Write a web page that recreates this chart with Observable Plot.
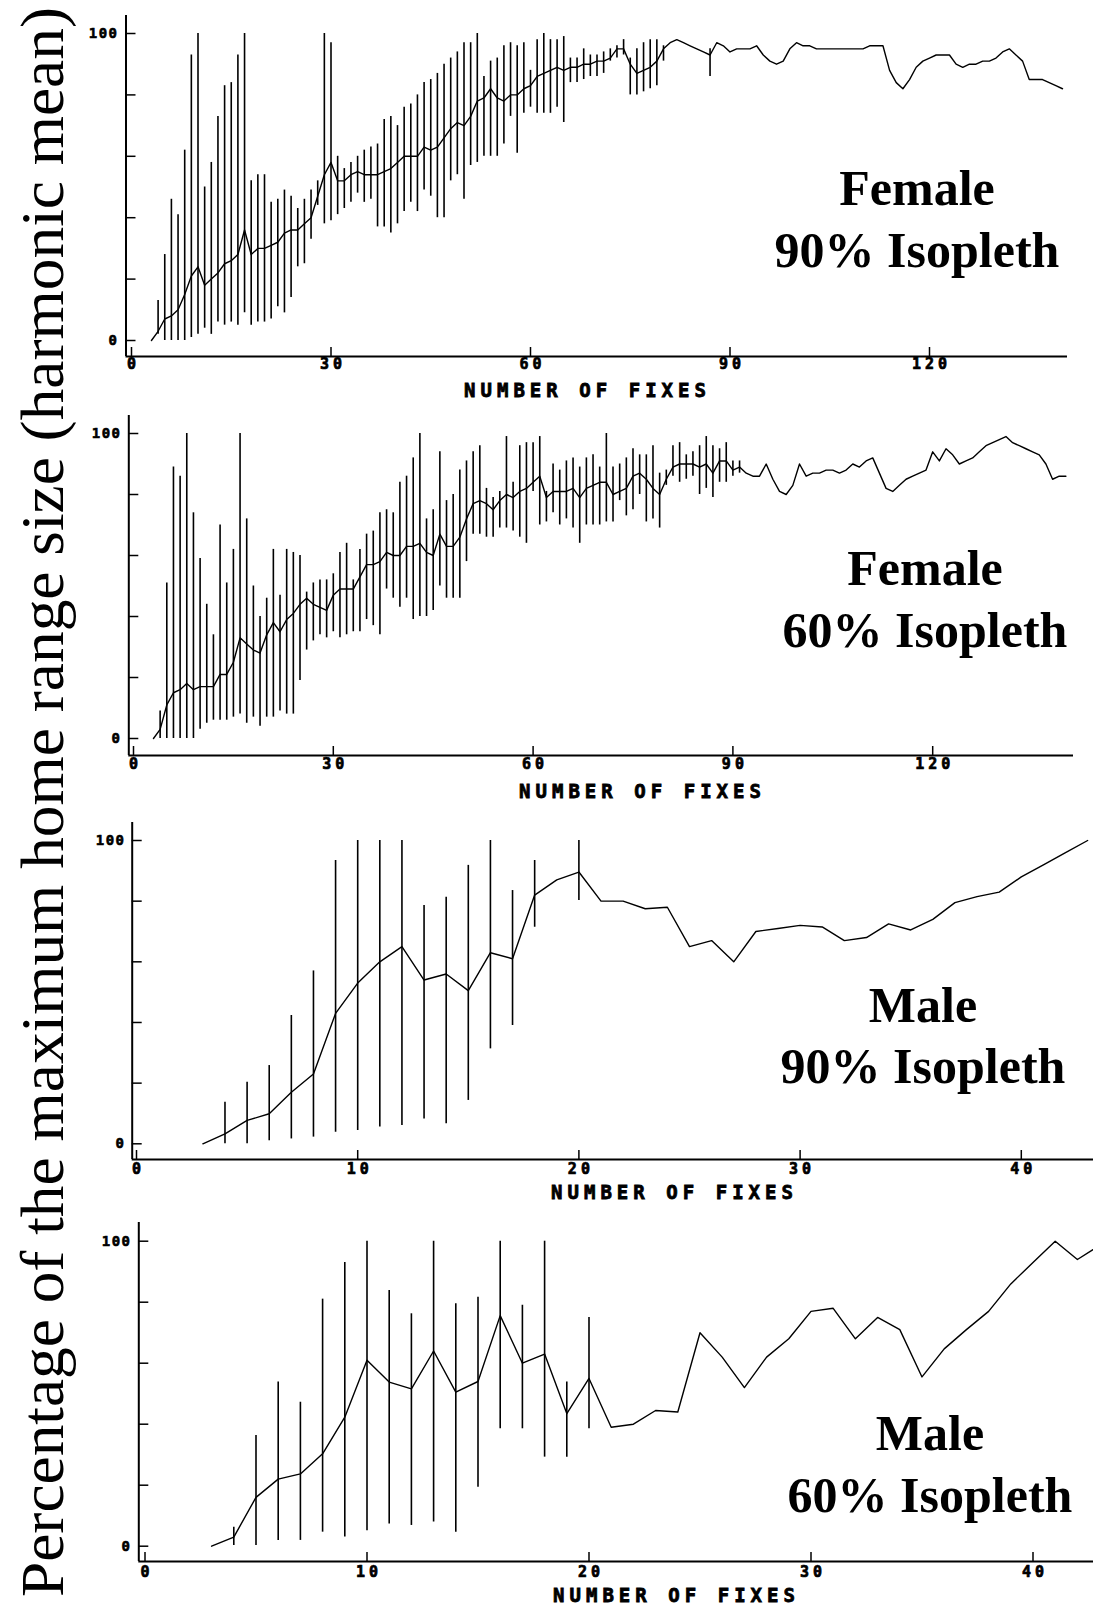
<!DOCTYPE html>
<html><head><meta charset="utf-8">
<script src="https://cdn.jsdelivr.net/npm/d3@7"></script>
<script src="https://cdn.jsdelivr.net/npm/@observablehq/plot@0.6"></script>
<style>
html,body{margin:0;padding:0;background:#fff;overflow:hidden;}
#root{position:relative;width:1093px;height:1605px;overflow:hidden;background:#fff;}
.panel{position:absolute;left:0;}
#overlay{position:absolute;left:0;top:0;}
g.xtl text{letter-spacing:4px;}
g.ytl text{letter-spacing:1.5px;}
</style></head><body><div id="root"></div>
<script>
// ---------------- DATA ----------------
// Female, number of fixes 3..140
const femaleFixes = d3.range(3, 141);
const female90Mean = [
  0,3,7,8,10,15,21,24,18,20,
  22,25,26,28,36,28,30,30,31,32,
  35,36,36,38,40,47,54,58,52,52,
  54,55,54,54,54,55,56,58,60,60,
  60,63,62,63,66,69,71,70,73,78,
  79,82,79,78,80,80,82,83,86,87,
  88,89,88,89,89,90,90,91,91,92,
  95,95,90,87,88,89,91,95,97,98,
  97,96,95,94,93,97,96,94,95,95,
  95,96,93,91,90,91,95,97,96,96,
  95,95,95,95,95,95,95,95,96,96,
  96,88,84,82,85,89,91,92,93,93,
  93,90,89,90,90,91,91,92,94,95,
  93,91,85,85,85,84,83,82];
const female90BarFix = d3.range(4, 81).concat([87]);
const female90Lo = [
  2,0,0,0,0,1,2,4,2,6,
  5,6,5,9,5,6,6,7,11,9,
  14,24,25,33,44,38,39,41,43,45,
  48,45,46,37,37,35,38,42,45,42,
  49,47,40,40,52,54,46,57,58,60,
  60,60,64,73,61,74,76,74,74,74,
  76,71,84,84,85,86,86,87,91,92,
  93,80,80,81,82,83,91,
  86];
const female90Hi = [
  13,28,46,41,62,93,100,50,58,73,
  83,84,93,100,52,54,54,45,46,49,
  47,43,46,49,52,100,97,60,56,58,
  60,62,63,64,72,73,70,76,77,80,
  84,85,87,90,92,94,97,97,100,86,
  91,92,96,97,96,97,88,98,100,98,
  98,99,92,92,95,93,93,94,95,96,
  98,92,95,97,98,98,96,
  95];

const female60Mean = [
  0,3,11,15,16,18,16,17,17,17,
  21,21,25,33,31,29,28,34,38,35,
  39,41,44,46,44,43,42,47,49,49,
  49,53,57,57,58,61,60,60,63,63,
  64,61,60,67,63,63,66,72,77,78,
  77,75,78,80,79,81,82,84,86,79,
  81,81,81,82,79,82,83,84,84,80,
  81,82,86,87,85,82,80,85,89,90,
  90,90,89,90,87,91,91,88,89,87,
  86,86,90,85,81,80,83,90,86,87,
  87,88,88,87,88,90,89,91,92,87,
  82,81,83,85,86,87,88,94,91,95,
  93,90,91,92,94,96,97,98,99,97,
  96,95,94,93,90,85,86,86];
const female60BarFix = d3.range(4, 92);
const female60Lo = [
  0,0,0,0,0,0,3,5,6,6,
  6,7,8,5,7,4,7,7,9,8,
  8,19,29,32,34,33,35,33,34,35,
  35,39,37,34,49,46,43,46,39,40,
  40,42,50,46,46,46,58,67,67,66,
  66,69,69,68,66,64,81,70,71,74,
  70,72,69,64,70,70,70,71,71,78,
  73,75,80,71,72,69,83,86,84,85,
  86,80,82,79,84,84,86,87];
const female60Hi = [
  9,51,89,86,100,74,59,44,34,70,
  51,62,100,72,50,40,46,62,47,62,
  61,60,48,51,52,52,54,61,64,52,
  62,67,68,74,75,74,84,86,92,100,
  72,75,94,78,80,88,91,94,96,82,
  79,81,99,84,96,97,97,99,81,90,
  88,91,92,89,92,93,89,100,89,90,
  92,95,93,93,96,87,88,96,97,93,
  94,96,99,96,95,97,91,91];

// Male, number of fixes 3..43
const maleFixes = [3,4,5,6,7,8,9,10,11,12,13,14,15,16,17,18,19,20,21,22,23,24,25,26,27,28,29,30,31,32,33,34,35,36,37,38,39,40,41,42,43];
const male90Mean = [0,3.3,7.7,9.9,17,23,43,53,60,65,54,56,50.5,63,61,82,87,89.6,80,80,77.5,78,65,67,60,70,71,72,71.5,67,68,72.5,70.5,74,79.5,81.5,83,88,92,96,100];
const male90BarFix = [4,5,6,7,8,9,10,11,12,13,14,15,16,17,18,20];
const male90Lo = [0,0,1,1.6,2.2,3.8,4.4,5.5,6,8.2,6.6,14.3,31.3,39,71.4,80.2];
const male90Hi = [13.7,20.3,25.8,42.3,57,93.4,100,100,100,78.6,81.3,91.8,100,83.5,93.4,100];

const male60Mean = [0,3,16,22,23.7,30.3,42.3,61,53.8,51.6,64,50.5,54,75.6,60,63,43.5,55,39,40,44.5,44,70,62,52,62,68,77,78,68,75,71,55.5,64.7,71,77,86,93,100,94,98.6];
const male60BarFix = [4,5,6,7,8,9,10,11,12,13,14,15,16,17,18,19,20];
const male60Lo = [0.2,0.2,1.9,1.9,4.6,3,5.1,7.3,6.8,7.9,4.6,19.3,38.5,38.5,29.2,29.2,38.5];
const male60Hi = [6.2,36.3,53.8,47.2,81,93,100,83.8,76.2,100,79.5,81.6,100,79,100,53.8,75];

const femaleTicks = [0, 30, 60, 90, 120];
const maleTicks = [0, 10, 20, 30, 40];
const yTickLabels = [0, 100];
const yMinorTicks = [0, 20, 40, 60, 80, 100];
const titles = [["Female", "90% Isopleth"], ["Female", "60% Isopleth"], ["Male", "90% Isopleth"], ["Male", "60% Isopleth"]];
const xAxisTitle = "NUMBER OF FIXES";
const yAxisTitle = "Percentage of the maximum home range size (harmonic mean)";

// ---------------- BUILD ----------------
const toSeries = (fx, v) => fx.map((n, i) => ({n, v: v[i]}));
const toBars = (fx, lo, hi) => fx.map((n, i) => ({n, lo: lo[i], hi: hi[i]}));

const mono = "DejaVu Sans Mono, monospace";
const serif = "Liberation Serif, Times New Roman, serif";

function panel(c) {
  const ppy = (c.y0 - c.y100) / 100;
  const xv = px => (px - c.x0) / c.ppu;
  const yv = py => (c.y0 - py) / ppy;
  return Plot.plot({
    width: 1093,
    height: c.height,
    marginLeft: c.x0,
    marginRight: 1093 - (c.x0 + c.xMax * c.ppu),
    marginTop: c.y100 - c.top,
    marginBottom: c.top + c.height - c.y0,
    x: {domain: [0, c.xMax], axis: null},
    y: {domain: [0, 100], axis: null},
    style: {background: "transparent", overflow: "visible"},
    marks: [
      Plot.ruleX([xv(c.yAxisX)], {y1: yv(c.xAxisY), y2: yv(c.yAxisTop), stroke: "#000", strokeWidth: 2}),
      Plot.ruleY([yv(c.xAxisY)], {x1: xv(c.yAxisX), x2: xv(c.xAxisRight), stroke: "#000", strokeWidth: 2}),
      Plot.ruleY(yMinorTicks, {x1: xv(c.yAxisX), x2: xv(c.yAxisX + 10), stroke: "#000", strokeWidth: 1.5}),
      Plot.ruleX(c.ticks, {y1: yv(c.xAxisY), y2: yv(c.xAxisY - 9), stroke: "#000", strokeWidth: 1.5}),
      Plot.text(c.ticks, {x: d => d, frameAnchor: "bottom", dy: c.tickLabelY - c.y0, dx: 2, text: d => String(d),
        fontFamily: mono, fontWeight: "bold", fontSize: 15, fill: "#000", stroke: "#000", strokeWidth: 0.7, className: "xtl"}),
      Plot.text(yTickLabels, {y: d => d, frameAnchor: "left", dx: c.yLabelRight - c.x0, textAnchor: "end", text: d => String(d),
        fontFamily: mono, fontWeight: "bold", fontSize: 14, fill: "#000", stroke: "#000", strokeWidth: 0.6, className: "ytl"}),
      Plot.ruleX(c.bars, {x: "n", y1: "lo", y2: "hi", stroke: "#000", strokeWidth: 1.6}),
      Plot.line(c.series, {x: "n", y: "v", stroke: "#000", strokeWidth: 1.4})
    ]
  });
}

const panels = [
  {top: 0, height: 400, x0: 131, ppu: 6.65, y0: 340, y100: 33, yAxisX: 125.5, yAxisTop: 15, xAxisY: 356, xAxisRight: 1067,
   xMax: 141, ticks: femaleTicks, tickLabelY: 368, yLabelRight: 118,
   series: toSeries(femaleFixes, female90Mean), bars: toBars(female90BarFix, female90Lo, female90Hi)},
  {top: 400, height: 400, x0: 133, ppu: 6.66, y0: 738, y100: 433, yAxisX: 128.3, yAxisTop: 415, xAxisY: 755, xAxisRight: 1073,
   xMax: 141, ticks: femaleTicks, tickLabelY: 768, yLabelRight: 121,
   series: toSeries(femaleFixes, female60Mean), bars: toBars(female60BarFix, female60Lo, female60Hi)},
  {top: 800, height: 400, x0: 136, ppu: 22.12, y0: 1143.3, y100: 840, yAxisX: 131.7, yAxisTop: 822, xAxisY: 1159, xAxisRight: 1093,
   xMax: 43.2, ticks: maleTicks, tickLabelY: 1173, yLabelRight: 125,
   series: toSeries(maleFixes, male90Mean), bars: toBars(male90BarFix, male90Lo, male90Hi)},
  {top: 1200, height: 405, x0: 144.5, ppu: 22.2, y0: 1545.7, y100: 1240.7, yAxisX: 138.3, yAxisTop: 1222, xAxisY: 1561, xAxisRight: 1093,
   xMax: 43, ticks: maleTicks, tickLabelY: 1576, yLabelRight: 131,
   series: toSeries(maleFixes, male60Mean), bars: toBars(male60BarFix, male60Lo, male60Hi)}
];

const root = document.getElementById("root");
for (const c of panels) {
  const svg = panel(c);
  svg.classList.add("panel");
  svg.style.top = c.top + "px";
  root.appendChild(svg);
}

// ---------------- TEXT OVERLAY ----------------
const titlePos = [
  {x: 917, y1: 205, y2: 267},
  {x: 925, y1: 585, y2: 647},
  {x: 923, y1: 1022, y2: 1083},
  {x: 930, y1: 1450, y2: 1512}
];
const xTitlePos = [{x: 585, y: 391}, {x: 640, y: 792}, {x: 672, y: 1193}, {x: 674, y: 1596}];

const ov = d3.select(root).append("svg").attr("id", "overlay").attr("width", 1093).attr("height", 1605);
titles.forEach((t, i) => {
  const p = titlePos[i];
  ov.append("text").attr("x", p.x).attr("y", p.y1).attr("text-anchor", "middle")
    .attr("font-family", serif).attr("font-weight", "bold").attr("font-size", 50).text(t[0]);
  ov.append("text").attr("x", p.x).attr("y", p.y2).attr("text-anchor", "middle")
    .attr("font-family", serif).attr("font-weight", "bold").attr("font-size", 50).text(t[1]);
});
xTitlePos.forEach(p => {
  ov.append("text").attr("x", p.x).attr("y", p.y).attr("text-anchor", "middle").attr("dominant-baseline", "middle")
    .attr("font-family", mono).attr("font-weight", "bold").attr("font-size", 19)
    .attr("stroke", "#000").attr("stroke-width", 0.8)
    .attr("textLength", 242).attr("lengthAdjust", "spacing").text(xAxisTitle);
});
ov.append("text").attr("transform", "translate(63,802) rotate(-90)").attr("text-anchor", "middle")
  .attr("font-family", serif).attr("font-size", 62)
  .attr("textLength", 1590).attr("lengthAdjust", "spacingAndGlyphs").text(yAxisTitle);
</script></body></html>
